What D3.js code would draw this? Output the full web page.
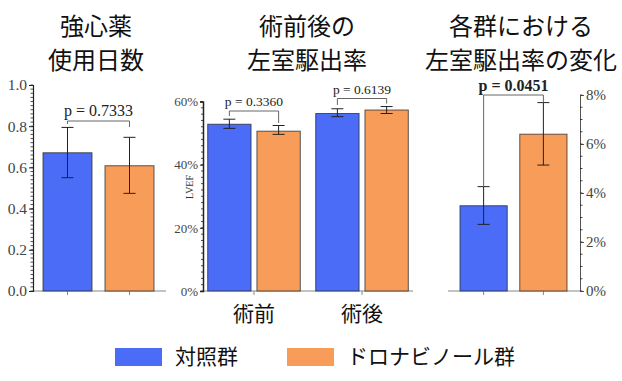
<!DOCTYPE html>
<html><head><meta charset="utf-8">
<script src="https://cdn.jsdelivr.net/npm/d3@7"></script>
<style>body{margin:0;background:#fff}svg{display:block}</style>
</head><body>
<svg id="c" width="622" height="381"></svg>
<script>
const groups = ["対照群", "ドロナビノール群"];
const colors = ["#4a6cf7", "#f89c59"];
const titles = [["強心薬", "使用日数"], ["術前後の", "左室駆出率"], ["各群における", "左室駆出率の変化"]];

// Panel 1: inotrope days
const p1Mean = [0.671, 0.608];
const p1Hi = [0.794, 0.746];
const p1Lo = [0.550, 0.474];
const p1Ticks = [0, 0.2, 0.4, 0.6, 0.8, 1.0];
const p1P = "p = 0.7333";

// Panel 2: LVEF pre/post (%)
const p2Cats = ["術前", "術後"];
const p2Mean = [[52.8, 50.6], [56.2, 57.3]];
const p2Hi = [[54.4, 52.4], [57.7, 58.4]];
const p2Lo = [[51.5, 49.6], [55.2, 56.2]];
const p2Ticks = [0, 20, 40, 60];
const p2P = ["p = 0.3360", "p = 0.6139"];

// Panel 3: LVEF change (%)
const p3Mean = [3.48, 6.40];
const p3Hi = [4.26, 7.69];
const p3Lo = [2.72, 5.14];
const p3Ticks = [0, 2, 4, 6, 8];
const p3P = "p = 0.0451";

const svg = d3.select("#c");
const serif = "'Liberation Serif', 'DejaVu Serif', serif";
const cjk = "'Noto Sans CJK JP', sans-serif";
const axisCol = "#222";
const baseCol = "#888";
const barStroke = "rgba(40,40,40,0.75)";

// Titles
const titleX = [96, 307, 521];
titles.forEach((t, i) => {
  t.forEach((line, j) => {
    svg.append("text").attr("x", titleX[i]).attr("y", 35 + j * 34)
      .attr("text-anchor", "middle").attr("font-family", cjk)
      .attr("font-size", 24).attr("fill", "#111").text(line);
  });
});

function errBar(g, x, yHi, yLo, cap) {
  g.append("line").attr("x1", x).attr("x2", x).attr("y1", yHi).attr("y2", yLo)
    .attr("stroke", "#222").attr("stroke-width", 1);
  [yHi, yLo].forEach(y => g.append("line").attr("x1", x - cap).attr("x2", x + cap)
    .attr("y1", y).attr("y2", y).attr("stroke", "#222").attr("stroke-width", 1));
}
function bracket(g, x1, x2, yTop, y1, y2, label, size, bold, gap) {
  g.append("path").attr("d", `M${x1},${y1}V${yTop}H${x2}V${y2}`)
    .attr("fill", "none").attr("stroke", "#666").attr("stroke-width", 1);
  g.append("text").attr("x", (x1 + x2) / 2).attr("y", yTop - gap)
    .attr("text-anchor", "middle").attr("font-family", serif)
    .attr("font-size", size).attr("font-weight", bold ? "bold" : "normal")
    .attr("fill", "#222").text(label);
}
function minorTicks(g, y, domain, step, x, dir, len) {
  const n = Math.round((domain[1] - domain[0]) / step);
  for (let i = 0; i <= n; i++) {
    const v = domain[0] + i * step;
    g.append("line").attr("x1", x).attr("x2", x + dir * len)
      .attr("y1", y(v)).attr("y2", y(v)).attr("stroke", axisCol).attr("stroke-width", 0.8);
  }
}

// ---------- Panel 1 ----------
{
  const g = svg.append("g");
  const x = d3.scaleBand().domain(groups).range([43, 154]).paddingInner(0.21).paddingOuter(0);
  const y = d3.scaleLinear().domain([0, 1]).range([291, 85]);
  g.append("line").attr("x1", 33).attr("x2", 166).attr("y1", 291).attr("y2", 291)
    .attr("stroke", baseCol).attr("stroke-width", 1.2);
  groups.forEach((k, i) => {
    g.append("line").attr("x1", x(k) + x.bandwidth() / 2).attr("x2", x(k) + x.bandwidth() / 2)
      .attr("y1", 291).attr("y2", 295).attr("stroke", baseCol);
  });
  g.selectAll("rect").data(groups).join("rect")
    .attr("x", d => x(d)).attr("width", x.bandwidth())
    .attr("y", (d, i) => y(p1Mean[i])).attr("height", (d, i) => y(0) - y(p1Mean[i]))
    .attr("fill", (d, i) => colors[i]).attr("stroke", barStroke).attr("stroke-width", 1);
  groups.forEach((k, i) => errBar(g, x(k) + x.bandwidth() / 2, y(p1Hi[i]), y(p1Lo[i]), 6));
  const ax = g.append("g").attr("transform", "translate(33,0)")
    .call(d3.axisLeft(y).tickValues(p1Ticks).tickFormat(d3.format(".1f")).tickSize(4).tickPadding(2));
  ax.select(".domain").attr("stroke", axisCol).attr("stroke-width", 1.2);
  ax.selectAll("text").attr("font-family", serif).attr("font-size", 15.5).attr("fill", "#444");
  ax.selectAll(".tick line").attr("stroke", axisCol);
  minorTicks(g, y, [0, 1], 0.02, 33, -1, 2.5);
  const c0 = x(groups[0]) + x.bandwidth() / 2, c1 = x(groups[1]) + x.bandwidth() / 2;
  bracket(g, c0, c1, 121, 124, 127, p1P, 16, false, 5);
}

// ---------- Panel 2 ----------
{
  const g = svg.append("g");
  const x0 = d3.scaleBand().domain(p2Cats).range([207.7, 408.3]).paddingInner(0.143).paddingOuter(0);
  const x1 = d3.scaleBand().domain(groups).range([0, x0.bandwidth()]).paddingInner(0.12).paddingOuter(0);
  const y = d3.scaleLinear().domain([0, 60]).range([291, 101.5]);
  g.append("line").attr("x1", 203).attr("x2", 413).attr("y1", 291).attr("y2", 291)
    .attr("stroke", baseCol).attr("stroke-width", 1.2);
  p2Cats.forEach(c => {
    const cx = x0(c) + x0.bandwidth() / 2;
    g.append("line").attr("x1", cx).attr("x2", cx).attr("y1", 291).attr("y2", 295).attr("stroke", baseCol);
    g.append("text").attr("x", cx).attr("y", 321).attr("text-anchor", "middle")
      .attr("font-family", cjk).attr("font-size", 21).attr("fill", "#111").text(c);
  });
  p2Cats.forEach((c, ci) => {
    groups.forEach((k, i) => {
      g.append("rect").attr("x", x0(c) + x1(k)).attr("width", x1.bandwidth())
        .attr("y", y(p2Mean[ci][i])).attr("height", y(0) - y(p2Mean[ci][i]))
        .attr("fill", colors[i]).attr("stroke", barStroke).attr("stroke-width", 1);
      errBar(g, x0(c) + x1(k) + x1.bandwidth() / 2, y(p2Hi[ci][i]), y(p2Lo[ci][i]), 6);
    });
  });
  const ax = g.append("g").attr("transform", "translate(203,0)")
    .call(d3.axisLeft(y).tickValues(p2Ticks).tickFormat(d => d + "%").tickSize(3).tickPadding(2));
  ax.select(".domain").attr("stroke", axisCol).attr("stroke-width", 1.5);
  ax.selectAll("text").attr("font-family", serif).attr("font-size", 13).attr("fill", "#444");
  ax.selectAll(".tick line").attr("stroke", axisCol);
  minorTicks(g, y, [0, 60], 2, 203, -1, 2);
  g.append("text").attr("transform", "translate(193,187) rotate(-90)")
    .attr("text-anchor", "middle").attr("font-family", serif).attr("font-size", 10)
    .attr("fill", "#333").text("LVEF");
  const cx = (c, k) => x0(c) + x1(k) + x1.bandwidth() / 2;
  bracket(g, cx("術前", groups[0]), cx("術前", groups[1]), 111, 116, 123, p2P[0], 13.5, false, 5);
  bracket(g, cx("術後", groups[0]), cx("術後", groups[1]), 98.5, 105, 103.5, p2P[1], 13.5, false, 5);
}

// ---------- Panel 3 ----------
{
  const g = svg.append("g");
  const x = d3.scaleBand().domain(groups).range([460, 567]).paddingInner(0.21).paddingOuter(0);
  const y = d3.scaleLinear().domain([0, 8]).range([291, 95]);
  g.append("line").attr("x1", 448).attr("x2", 580).attr("y1", 291).attr("y2", 291)
    .attr("stroke", baseCol).attr("stroke-width", 1.2);
  groups.forEach(k => {
    const cx = x(k) + x.bandwidth() / 2;
    g.append("line").attr("x1", cx).attr("x2", cx).attr("y1", 291).attr("y2", 295).attr("stroke", baseCol);
  });
  g.selectAll("rect").data(groups).join("rect")
    .attr("x", d => x(d)).attr("width", x.bandwidth())
    .attr("y", (d, i) => y(p3Mean[i])).attr("height", (d, i) => y(0) - y(p3Mean[i]))
    .attr("fill", (d, i) => colors[i]).attr("stroke", barStroke).attr("stroke-width", 1);
  groups.forEach((k, i) => errBar(g, x(k) + x.bandwidth() / 2, y(p3Hi[i]), y(p3Lo[i]), 6));
  const ax = g.append("g").attr("transform", "translate(580,0)")
    .call(d3.axisRight(y).tickValues(p3Ticks).tickFormat(d => d + "%").tickSize(4).tickPadding(2));
  ax.select(".domain").attr("stroke", "#555").attr("stroke-width", 1);
  ax.selectAll("text").attr("font-family", serif).attr("font-size", 15).attr("fill", "#444");
  ax.selectAll(".tick line").attr("stroke", "#555");
  minorTicks(g, y, [0, 8], 0.5, 580, 1, 2.5);
  const c0 = x(groups[0]) + x.bandwidth() / 2, c1 = x(groups[1]) + x.bandwidth() / 2;
  bracket(g, c0, c1, 95, y(p3Hi[0]), y(p3Hi[1]), p3P, 16, true, 4);
}

// ---------- Legend ----------
const legX = [115, 287];
groups.forEach((k, i) => {
  svg.append("rect").attr("x", legX[i]).attr("y", 348).attr("width", 47).attr("height", 18)
    .attr("fill", colors[i]);
  svg.append("text").attr("x", legX[i] + 60).attr("y", 364).attr("font-family", cjk)
    .attr("font-size", 21).attr("fill", "#111").text(k);
});
</script>
</body></html>
